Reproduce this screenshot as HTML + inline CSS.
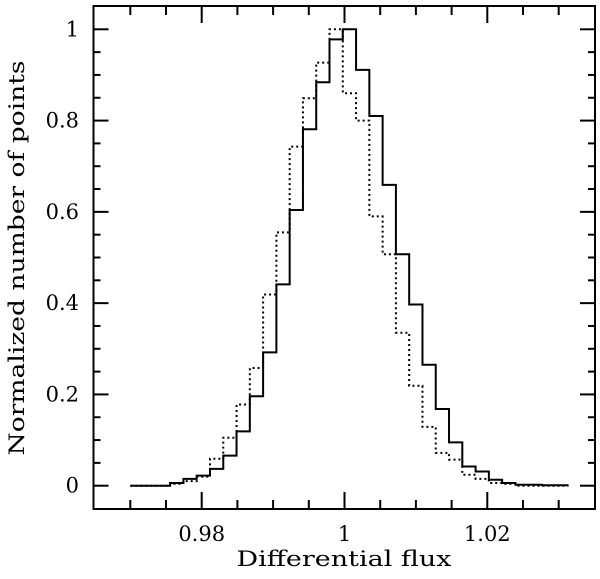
<!DOCTYPE html>
<html><head><meta charset="utf-8"><style>
body{margin:0;background:#fff;width:600px;height:574px;overflow:hidden}
svg text{font-family:"DejaVu Serif","Liberation Serif",serif;fill:#000}
</style></head><body>
<svg id="chart" width="600" height="574" viewBox="0 0 600 574" xmlns="http://www.w3.org/2000/svg">
<g id="axes"></g>
<g id="series"></g>
<text x="344" y="566" font-size="21" text-anchor="middle" textLength="215" lengthAdjust="spacingAndGlyphs">Differential flux</text>
<text x="0" y="0" font-size="21" text-anchor="middle" textLength="395" lengthAdjust="spacingAndGlyphs" transform="translate(24,258) rotate(-90)">Normalized number of points</text>
</svg>
<script>
const binStart = 0.97;
const binWidth = 0.00186;
const solidValues = [0,0,0,0.006,0.015,0.022,0.037,0.066,0.119,0.196,0.292,0.441,0.604,0.781,0.884,0.978,1.0,0.911,0.81,0.659,0.507,0.397,0.265,0.168,0.095,0.042,0.031,0.013,0.006,0.002,0.002,0.001,0.001];
const dottedValues = [0,0,0,0.004,0.01,0.02,0.059,0.105,0.178,0.258,0.419,0.555,0.743,0.849,0.927,1.0,0.86,0.80,0.59,0.507,0.335,0.219,0.129,0.072,0.057,0.024,0.015,0.006,0.004,0,0,0,0];
const xTickMajor = [0.98,1.0,1.02];
const xTickLabels = ["0.98","1","1.02"];
const yTickMajor = [0,0.2,0.4,0.6,0.8,1];
const yTickLabels = ["0","0.2","0.4","0.6","0.8","1"];

const L=93.5,R=595,T=6,B=509;
function xs(v){return 344.5+(v-1)*7140;}
function ys(v){return 485.7-v*456.4;}
const NS="http://www.w3.org/2000/svg";
const axes=document.getElementById('axes'),series=document.getElementById('series');
function mk(tag,attrs,parent){const e=document.createElementNS(NS,tag);for(const k in attrs)e.setAttribute(k,attrs[k]);parent.appendChild(e);return e;}

const frame=mk('rect',{x:L,y:T,width:R-L,height:B-T,fill:'none',stroke:'#000','stroke-width':2},axes);



for(let k=0;k<=14;k++){
  const vv=Math.round((0.97+k*0.005)*1000)/1000;
  const x=xs(vv); if(x<=L+1||x>=R-1) continue;
  const major=Math.abs(vv*100-Math.round(vv*100))<1e-6 && Math.round(vv*100)%2===0;
  const len=major?17:9;
  const t1=mk('line',{x1:x,y1:B,x2:x,y2:B-len,stroke:'#000','stroke-width':2},axes);
  
  
  const t2=mk('line',{x1:x,y1:T,x2:x,y2:T+len,stroke:'#000','stroke-width':2},axes);
  
  
}
xTickMajor.forEach((v,i)=>{
  const t=mk('text',{x:xs(v),y:541,'font-size':21,'text-anchor':'middle'},axes);
  t.textContent=xTickLabels[i];
  
  
});
for(let k=-1;k<=21;k++){
  const v=k*0.05; const y=ys(v); if(y<=T+1||y>=B-1) continue;
  const major=k%4===0; const len=major?15:7;
  const t1=mk('line',{x1:L,y1:y,x2:L+len,y2:y,stroke:'#000','stroke-width':2},axes);
  
  
  const t2=mk('line',{x1:R,y1:y,x2:R-len,y2:y,stroke:'#000','stroke-width':2},axes);
  
  
}
yTickMajor.forEach((v,i)=>{
  const t=mk('text',{x:79,y:ys(v)+7,'font-size':21,'text-anchor':'end'},axes);
  t.textContent=yTickLabels[i];
  
  
});
function stepPath(vals){
  let d='';
  vals.forEach((v,i)=>{
    const x0=xs(binStart+i*binWidth),x1=xs(binStart+(i+1)*binWidth),y=ys(v);
    d+=(i===0?'M':'L')+x0+','+y+'L'+x1+','+y;
  });
  return d;
}
const solid=mk('path',{d:stepPath(solidValues),fill:'none',stroke:'#000','stroke-width':2},series);


const dotted=mk('path',{d:stepPath(dottedValues),fill:'none',stroke:'#000','stroke-width':2,'stroke-dasharray':'2,3'},series);


</script>
</body></html>
